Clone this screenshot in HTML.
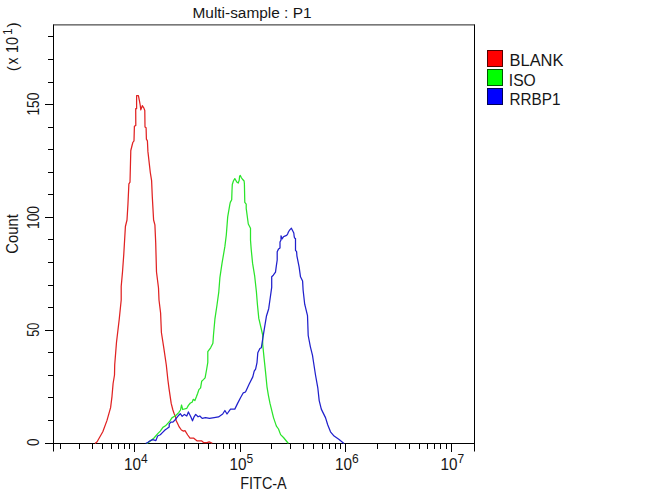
<!DOCTYPE html>
<html><head><meta charset="utf-8"><style>
html,body{margin:0;padding:0;background:#fff;}
body{width:650px;height:493px;overflow:hidden;position:relative;}
svg{position:absolute;left:0;top:0;}
text{font-family:"Liberation Sans",Arial,sans-serif;fill:#161616;}
</style></head><body>
<svg width="650" height="493" viewBox="0 0 650 493">
<rect width="650" height="493" fill="#fff"/>
<g stroke="#000" stroke-width="1" fill="none">
<line x1="53.5" y1="451.5" x2="53.5" y2="24.4"/>
<line x1="474.5" y1="451.5" x2="474.5" y2="24.4"/>
<line x1="53.5" y1="24.9" x2="474.5" y2="24.9" stroke="#222"/>
</g>
<g stroke="#000" stroke-width="1" shape-rendering="crispEdges" fill="none">
<line x1="53.5" y1="443.5" x2="474.5" y2="443.5"/>
<line x1="45" y1="443.5" x2="53.5" y2="443.5"/><line x1="48" y1="420.5" x2="53.5" y2="420.5"/><line x1="48" y1="397.5" x2="53.5" y2="397.5"/><line x1="48" y1="375.5" x2="53.5" y2="375.5"/><line x1="48" y1="352.5" x2="53.5" y2="352.5"/><line x1="45" y1="330.5" x2="53.5" y2="330.5"/><line x1="48" y1="307.5" x2="53.5" y2="307.5"/><line x1="48" y1="285.5" x2="53.5" y2="285.5"/><line x1="48" y1="262.5" x2="53.5" y2="262.5"/><line x1="48" y1="239.5" x2="53.5" y2="239.5"/><line x1="45" y1="217.5" x2="53.5" y2="217.5"/><line x1="48" y1="194.5" x2="53.5" y2="194.5"/><line x1="48" y1="172.5" x2="53.5" y2="172.5"/><line x1="48" y1="149.5" x2="53.5" y2="149.5"/><line x1="48" y1="127.5" x2="53.5" y2="127.5"/><line x1="45" y1="104.5" x2="53.5" y2="104.5"/><line x1="48" y1="82.5" x2="53.5" y2="82.5"/><line x1="48" y1="59.5" x2="53.5" y2="59.5"/><line x1="48" y1="36.5" x2="53.5" y2="36.5"/><line x1="60.5" y1="443.5" x2="60.5" y2="449"/><line x1="79.5" y1="443.5" x2="79.5" y2="449"/><line x1="92.5" y1="443.5" x2="92.5" y2="449"/><line x1="102.5" y1="443.5" x2="102.5" y2="449"/><line x1="111.5" y1="443.5" x2="111.5" y2="449"/><line x1="118.5" y1="443.5" x2="118.5" y2="449"/><line x1="124.5" y1="443.5" x2="124.5" y2="449"/><line x1="129.5" y1="443.5" x2="129.5" y2="449"/><line x1="134.5" y1="443.5" x2="134.5" y2="451.5"/><line x1="166.5" y1="443.5" x2="166.5" y2="449"/><line x1="184.5" y1="443.5" x2="184.5" y2="449"/><line x1="198.5" y1="443.5" x2="198.5" y2="449"/><line x1="208.5" y1="443.5" x2="208.5" y2="449"/><line x1="216.5" y1="443.5" x2="216.5" y2="449"/><line x1="223.5" y1="443.5" x2="223.5" y2="449"/><line x1="229.5" y1="443.5" x2="229.5" y2="449"/><line x1="235.5" y1="443.5" x2="235.5" y2="449"/><line x1="240.5" y1="443.5" x2="240.5" y2="451.5"/><line x1="271.5" y1="443.5" x2="271.5" y2="449"/><line x1="290.5" y1="443.5" x2="290.5" y2="449"/><line x1="303.5" y1="443.5" x2="303.5" y2="449"/><line x1="313.5" y1="443.5" x2="313.5" y2="449"/><line x1="322.5" y1="443.5" x2="322.5" y2="449"/><line x1="329.5" y1="443.5" x2="329.5" y2="449"/><line x1="335.5" y1="443.5" x2="335.5" y2="449"/><line x1="340.5" y1="443.5" x2="340.5" y2="449"/><line x1="345.5" y1="443.5" x2="345.5" y2="451.5"/><line x1="377.5" y1="443.5" x2="377.5" y2="449"/><line x1="395.5" y1="443.5" x2="395.5" y2="449"/><line x1="409.5" y1="443.5" x2="409.5" y2="449"/><line x1="419.5" y1="443.5" x2="419.5" y2="449"/><line x1="427.5" y1="443.5" x2="427.5" y2="449"/><line x1="434.5" y1="443.5" x2="434.5" y2="449"/><line x1="440.5" y1="443.5" x2="440.5" y2="449"/><line x1="446.5" y1="443.5" x2="446.5" y2="449"/><line x1="451.5" y1="443.5" x2="451.5" y2="451.5"/>
</g>
<g fill="none" stroke-width="1.25" stroke-linejoin="round">
<polyline stroke="#e02222" points="95.0,443.5 97.1,441.8 102.8,431.8 107.0,420.4 110.6,407.7 112.0,396.3 113.1,383.5 114.5,375.0 114.7,365.0 116.5,342.2 119.2,319.5 121.2,300.0 121.2,286.5 122.5,272.0 123.8,254.0 125.4,226.5 127.0,220.0 127.9,205.0 128.9,183.8 130.0,182.2 130.8,150.5 132.8,142.5 134.0,140.8 134.4,126.2 135.8,125.4 135.7,108.7 136.6,108.7 136.6,95.6 138.4,95.6 139.3,100.2 140.2,105.0 140.8,109.9 142.3,105.7 143.9,108.1 144.8,110.5 145.0,127.0 146.1,127.8 146.4,139.2 147.4,140.8 147.9,151.4 150.3,172.5 151.6,180.6 152.3,196.8 153.6,220.0 154.9,224.9 155.7,242.7 156.5,272.0 158.5,288.0 159.0,300.0 160.6,313.0 161.4,332.5 163.9,348.7 166.3,365.0 167.9,380.0 169.1,389.2 171.2,403.4 172.9,410.0 174.0,413.2 175.6,416.9 176.1,420.5 177.7,423.7 179.2,426.9 181.4,430.0 183.5,431.1 185.0,430.6 187.7,435.0 190.0,438.1 193.5,438.1 196.9,440.8 201.5,440.8 203.8,442.7 206.9,442.7 209.2,441.9 212.3,443.3"/>
<polyline stroke="#2ae42a" points="147.0,443.5 150.4,441.0 154.0,438.0 158.0,433.4 160.3,431.1 162.9,427.4 165.5,425.8 169.8,421.1 171.9,417.9 174.5,416.3 176.1,415.3 178.7,412.6 180.5,410.0 181.5,405.0 182.7,409.5 186.8,408.3 188.4,405.4 190.4,403.0 192.1,402.2 193.3,399.3 194.9,400.6 196.5,396.5 197.7,393.2 198.9,389.6 200.6,387.9 201.7,381.2 203.4,379.6 205.1,377.9 206.7,369.0 207.8,362.3 207.8,351.7 210.6,347.8 212.9,343.3 213.5,334.8 214.9,319.2 217.0,305.0 218.8,291.8 219.9,277.6 222.0,263.4 224.9,246.4 226.3,235.0 227.7,216.9 229.9,204.1 230.3,202.4 231.7,199.7 232.0,190.7 232.3,184.5 233.4,181.0 234.8,178.6 235.8,180.3 236.8,182.1 238.2,183.1 239.2,180.3 239.6,176.2 240.3,175.5 241.3,177.6 242.3,179.0 244.1,181.0 244.4,183.8 244.8,202.4 246.2,204.1 246.2,208.4 248.3,224.0 250.5,228.2 250.5,240.0 251.2,249.2 252.6,263.4 254.7,276.2 256.4,291.8 257.4,304.2 258.8,318.4 262.7,335.0 262.7,344.2 264.1,358.4 265.6,372.6 267.0,386.8 268.4,395.3 270.0,403.4 273.5,417.6 276.4,426.1 278.5,429.0 280.6,434.6 283.5,437.5 288.4,443.5"/>
<polyline stroke="#2020cc" points="145.7,443.5 148.0,442.3 150.4,440.6 152.8,439.6 155.9,440.6 157.6,436.0 160.3,434.8 162.9,432.1 165.0,430.0 167.1,428.5 169.2,426.9 169.2,424.2 170.8,422.1 172.9,422.1 175.0,420.0 176.6,417.9 178.2,415.8 180.3,413.7 182.2,416.3 184.4,414.4 186.8,416.0 188.4,411.9 190.8,416.8 192.5,420.8 194.1,416.8 195.7,414.4 198.1,416.8 199.8,416.0 202.2,418.4 205.5,417.6 209.5,418.4 214.2,417.6 218.5,416.9 222.7,414.0 224.9,410.5 227.0,414.0 230.5,409.1 234.8,409.1 237.6,403.4 240.5,397.7 243.3,392.8 245.5,392.0 249.2,384.0 252.8,376.9 254.2,371.2 255.6,369.1 257.0,362.7 257.8,352.7 259.9,348.5 261.3,347.8 262.0,343.5 263.4,334.6 264.9,325.4 266.4,316.3 268.7,308.7 270.2,298.0 271.7,287.4 271.7,276.7 273.3,275.2 275.5,272.2 276.3,266.1 277.2,260.0 277.2,255.8 277.2,251.7 278.6,248.9 280.0,247.9 280.0,242.0 281.0,239.9 281.0,235.8 282.1,238.9 283.4,236.8 284.8,236.1 286.6,235.4 287.6,234.1 288.3,232.3 289.0,231.0 290.0,229.6 291.4,228.2 292.8,231.0 293.8,233.0 294.1,235.8 294.5,237.9 295.5,238.6 295.5,250.3 296.6,251.7 296.9,255.8 297.7,259.8 299.1,266.9 300.5,276.8 302.6,281.1 303.1,290.0 304.7,304.2 307.5,315.6 308.2,335.5 310.4,346.8 312.5,355.3 313.2,360.0 315.5,375.0 317.8,387.8 319.2,400.6 321.3,409.1 325.5,417.6 327.7,424.7 330.5,431.8 334.1,436.1 339.1,439.6 344.0,443.5"/>
</g>

<text x="252" y="18.2" font-size="15.5" text-anchor="middle" textLength="119" lengthAdjust="spacingAndGlyphs">Multi-sample : P1</text>
<g font-size="16">
<text transform="translate(38.6,442.2) rotate(-90)" text-anchor="middle" textLength="7.4" lengthAdjust="spacingAndGlyphs">0</text>
<text transform="translate(38.6,329.8) rotate(-90)" text-anchor="middle" textLength="14" lengthAdjust="spacingAndGlyphs">50</text>
<text transform="translate(38.6,217.5) rotate(-90)" text-anchor="middle" textLength="23" lengthAdjust="spacingAndGlyphs">100</text>
<text transform="translate(38.6,104.1) rotate(-90)" text-anchor="middle" textLength="23" lengthAdjust="spacingAndGlyphs">150</text>
</g>
<g font-size="16.5">
<text transform="translate(17.9,234) rotate(-90)" text-anchor="middle" textLength="39.5" lengthAdjust="spacingAndGlyphs">Count</text>
<text x="263.5" y="488.9" text-anchor="middle" textLength="46.5" lengthAdjust="spacingAndGlyphs">FITC-A</text>
</g>
<g font-size="16.5">
<g transform="translate(18,0) rotate(-90)">
<text x="-68.6" y="0" text-anchor="middle" font-size="15.5">(</text>
<text x="-60.9" y="0" text-anchor="middle" textLength="7" lengthAdjust="spacingAndGlyphs">x</text>
<text x="-45" y="0" text-anchor="middle" textLength="16" lengthAdjust="spacingAndGlyphs">10</text>
<text x="-31.6" y="-6.4" text-anchor="middle" font-size="12">1</text>
<text x="-25" y="0" text-anchor="middle" font-size="15.5">)</text>
</g>
</g>
<g font-size="16.5">
<text x="124" y="469.7" textLength="17" lengthAdjust="spacingAndGlyphs">10</text><text x="141" y="463.3" font-size="12">4</text>
<text x="229.5" y="469.7" textLength="17" lengthAdjust="spacingAndGlyphs">10</text><text x="246.5" y="463.3" font-size="12">5</text>
<text x="335" y="469.7" textLength="17" lengthAdjust="spacingAndGlyphs">10</text><text x="352" y="463.3" font-size="12">6</text>
<text x="440.5" y="469.7" textLength="17" lengthAdjust="spacingAndGlyphs">10</text><text x="457.5" y="463.3" font-size="12">7</text>
</g>
<g font-size="16.5">
<text x="509.5" y="66.2" textLength="54" lengthAdjust="spacingAndGlyphs">BLANK</text>
<text x="508.8" y="85.7" textLength="27" lengthAdjust="spacingAndGlyphs">ISO</text>
<text x="509.5" y="105.2" textLength="51" lengthAdjust="spacingAndGlyphs">RRBP1</text>
</g>

<g shape-rendering="crispEdges">
<rect x="487.5" y="50.5" width="15" height="16" fill="#ff0000" stroke="#500"/>
<rect x="487.5" y="69.5" width="15" height="16" fill="#00ff00" stroke="#050"/>
<rect x="487.5" y="88.5" width="15" height="16" fill="#0000ff" stroke="#005"/>
</g>
</svg>
</body></html>
